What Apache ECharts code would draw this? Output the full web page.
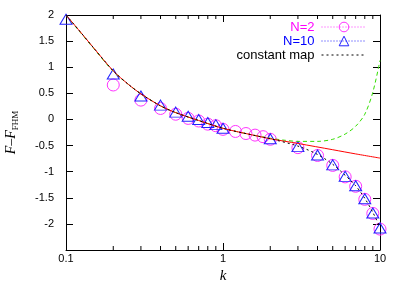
<!DOCTYPE html>
<html><head><meta charset="utf-8">
<script src="https://cdn.jsdelivr.net/npm/echarts@6/dist/echarts.min.js"></script>
<style>html,body{margin:0;padding:0;background:#fff}#c{width:403px;height:282px}</style>
</head><body><div id="c"></div>
<script>
// ---- data ----
const n2K = [0.2,0.3,0.4,0.5,0.6,0.7,0.8,0.9,1.0,1.2,1.4,1.6,1.8,2,3,4,5,6,7,8,9,10];
const n2V = [0.66,0.37,0.21,0.10,0.02,-0.03,-0.09,-0.12,-0.19,-0.23,-0.27,-0.30,-0.33,-0.38,-0.54,-0.69,-0.88,-1.10,-1.28,-1.53,-1.80,-2.10];
const n10K = [0.1,0.2,0.3,0.4,0.5,0.6,0.7,0.8,0.9,1.0,2,3,4,5,6,7,8,9,10];
const n10V = [1.92,0.87,0.45,0.275,0.14,0.06,0.0,-0.06,-0.10,-0.17,-0.37,-0.52,-0.68,-0.87,-1.09,-1.27,-1.52,-1.79,-2.08];
const redK = [0.1,0.12,0.15,0.2,0.25,0.3,0.4,0.5,0.7,1,1.5,2,3,5,7,10];
const redV = [2.0,1.72,1.37,0.93,0.67,0.49,0.26,0.13,-0.02,-0.17,-0.29,-0.37,-0.46,-0.58,-0.66,-0.74];
const greenK = [0.1,0.12,0.15,0.2,0.25,0.3,0.4,0.5,0.7,1,1.5,2,2.5,3,4,5,6,7,8,9,10];
const greenV = [2.0,1.71,1.36,0.92,0.67,0.49,0.26,0.13,-0.02,-0.17,-0.29,-0.36,-0.40,-0.42,-0.42,-0.38,-0.28,-0.13,0.10,0.52,1.13];
const blackK = [0.1,0.12,0.15,0.2,0.25,0.3,0.4,0.5,0.7,1,1.5,2,3,4,5,6,7,8,9,10];
const blackV = [2.0,1.72,1.37,0.93,0.67,0.49,0.26,0.13,-0.02,-0.17,-0.29,-0.37,-0.51,-0.67,-0.86,-1.07,-1.27,-1.51,-1.78,-2.06];
const xMinorTicks = [0.2,0.3,0.4,0.5,0.6,0.7,0.8,0.9,2,3,4,5,6,7,8,9];
const yTicks = [-2.5,-2,-1.5,-1,-0.5,0,0.5,1,1.5,2];
const legendNames = ['N=2','N=10','constant map'];

const zip = (a,b)=>a.map((v,i)=>[v,b[i]]);
const YMIN = yTicks[0], YMAX = yTicks[yTicks.length-1];
const MAG = '#ff33ff', BLU = '#2222ff';

const chart = echarts.init(document.getElementById('c'), null, {renderer:'canvas'});
const axisFont = {fontFamily:'Liberation Sans, Arial, sans-serif', fontSize:11, color:'#000'};

function legendBox(name, top, color, lineStyle, itemStyle){
  return {
    orient:'vertical', right:36, top:top, align:'right', padding:0,
    itemWidth:45, itemHeight:12, itemGap:0,
    textStyle:{color:color, fontSize:13, fontFamily:'Liberation Sans, Arial, sans-serif', padding:[0,2,0,0], lineHeight:14},
    data:[{name:name, lineStyle:lineStyle, itemStyle:itemStyle}],
    selectedMode:false
  };
}

chart.setOption({
  animation:false,
  backgroundColor:'#fff',
  grid:{left:66, right:23, top:15, bottom:32, containLabel:false, outerBoundsMode:'none'},
  legend:[
    legendBox(legendNames[0], 20, '#ff00ff', {width:1, type:[1,2], color:MAG, opacity:1}, {color:'rgba(0,0,0,0)', borderColor:MAG, borderWidth:1}),
    legendBox(legendNames[1], 34, '#0000ff', {width:1, type:[1,2], color:BLU, opacity:1}, {color:'rgba(0,0,0,0)', borderColor:BLU, borderWidth:1}),
    legendBox(legendNames[2], 48, '#000', {width:1, type:[2,3], color:'#000', opacity:1}, {color:'rgba(0,0,0,0)', borderWidth:0})
  ],
  xAxis:[{
    type:'log', logBase:10, min:0.1, max:10,
    axisLine:{onZero:false, lineStyle:{color:'#000', width:1}},
    axisTick:{inside:true, length:7, lineStyle:{color:'#000'}},
    axisLabel:Object.assign({margin:3}, axisFont),
    splitLine:{show:false},
    name:'k', nameLocation:'middle', nameGap:17,
    nameTextStyle:{fontFamily:'Liberation Serif, Times New Roman, serif', fontStyle:'italic', fontSize:15, color:'#000'}
  },{
    type:'log', logBase:10, min:0.1, max:10, position:'top',
    axisLine:{onZero:false, lineStyle:{color:'#000', width:1}},
    axisTick:{inside:true, length:7, lineStyle:{color:'#000'}},
    axisLabel:{show:false}, splitLine:{show:false}
  }],
  yAxis:[{
    type:'value', min:YMIN, max:YMAX, interval:0.5,
    axisLine:{show:true, onZero:false, lineStyle:{color:'#000', width:1}},
    axisTick:{inside:true, length:7, lineStyle:{color:'#000'}},
    axisLabel:Object.assign({margin:12, formatter:v=> v===YMIN ? '' : String(v)}, axisFont),
    splitLine:{show:false},
    name:'{a|F–F}{b|FHM}', nameLocation:'middle', nameGap:46, nameRotate:90,
    nameTextStyle:{rich:{
      a:{fontFamily:'Liberation Serif, Times New Roman, serif', fontStyle:'italic', fontSize:14, lineHeight:18, color:'#000', verticalAlign:'middle'},
      b:{fontFamily:'Liberation Serif, Times New Roman, serif', fontSize:9, color:'#000', padding:[9,0,0,0], verticalAlign:'bottom'}
    }}
  },{
    type:'value', min:YMIN, max:YMAX, interval:0.5, position:'right',
    axisLine:{show:true, onZero:false, lineStyle:{color:'#000', width:1}},
    axisTick:{inside:true, length:7, lineStyle:{color:'#000'}},
    axisLabel:{show:false}, splitLine:{show:false}
  }],
  series:[
    {
      type:'custom', silent:true, xAxisIndex:0, yAxisIndex:0, clip:false,
      data:xMinorTicks.map(k=>[k, YMIN]),
      renderItem:(params, api)=>{
        const k = api.value(0);
        const b = api.coord([k, YMIN]);
        const t = api.coord([k, YMAX]);
        const st = {stroke:'#000', lineWidth:1};
        return {type:'group', children:[
          {type:'line', shape:{x1:b[0], y1:b[1], x2:b[0], y2:b[1]-4}, style:st},
          {type:'line', shape:{x1:t[0], y1:t[1], x2:t[0], y2:t[1]+4}, style:st}
        ]};
      }
    },
    {
      name:legendNames[0], type:'line', data:zip(n2K, n2V),
      symbol:'circle', symbolSize:12, showSymbol:true,
      lineStyle:{width:0, opacity:0},
      itemStyle:{color:'rgba(0,0,0,0)', borderColor:MAG, borderWidth:1},
      z:3
    },
    {
      name:legendNames[1], type:'line', data:zip(n10K, n10V),
      symbol:'triangle', symbolSize:[12,10], showSymbol:true,
      lineStyle:{width:0, opacity:0},
      itemStyle:{color:'rgba(0,0,0,0)', borderColor:BLU, borderWidth:1},
      z:3
    },
    {
      type:'line', data:zip(greenK, greenV), showSymbol:false, smooth:0.3,
      lineStyle:{color:'#33dd00', width:1, type:[4,3]}, z:4
    },
    {
      type:'line', data:zip(redK, redV), showSymbol:false, smooth:0.3,
      lineStyle:{color:'#ff0000', width:1}, z:5
    },
    {
      name:legendNames[2], type:'line', data:zip(blackK, blackV), showSymbol:false, symbol:'none', smooth:0.3,
      lineStyle:{color:'#000', width:1, type:[2,3]}, itemStyle:{color:'#000'}, z:6
    }
  ]
});
</script>
</body></html>
